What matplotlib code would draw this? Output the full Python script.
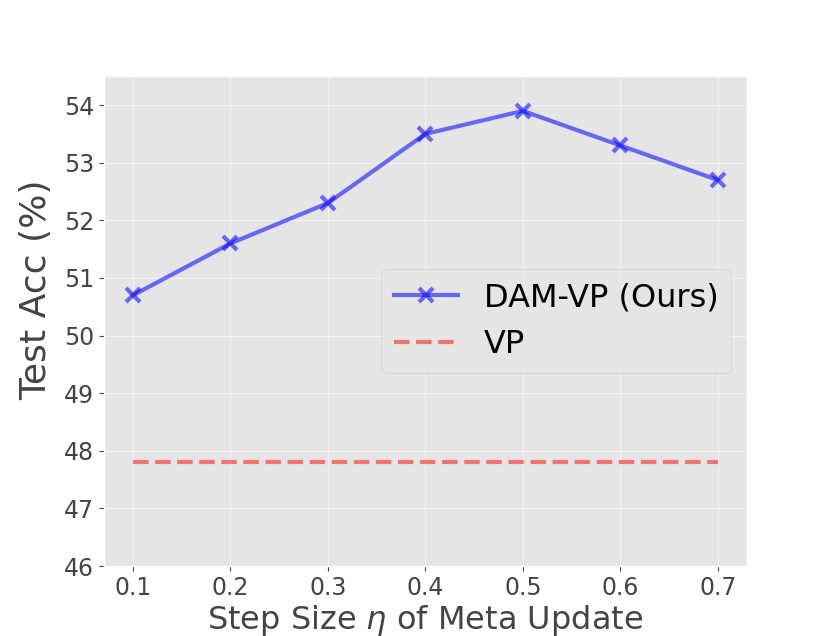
import matplotlib
matplotlib.use('Agg')
import matplotlib.pyplot as plt

step_sizes = [0.1, 0.2, 0.3, 0.4, 0.5, 0.6, 0.7]
dam_vp = [50.7, 51.6, 52.3, 53.5, 53.9, 53.3, 52.7]
vp = [47.8, 47.8, 47.8, 47.8, 47.8, 47.8, 47.8]


def main():
    plt.style.use('ggplot')
    fig, ax = plt.subplots(figsize=(8.3, 6.36), dpi=100)
    ax.plot(step_sizes, dam_vp, color='blue', alpha=0.55, linewidth=3,
            marker='x', markersize=10, markeredgewidth=3, label='DAM-VP (Ours)')
    ax.plot(step_sizes, vp, color='red', alpha=0.5, linewidth=3,
            linestyle='--', label='VP')
    ax.set_ylim(46, 54.5)
    ax.set_yticks(range(46, 55))
    ax.set_xticks(step_sizes)
    ax.grid(color='white', alpha=0.5)
    ax.tick_params(labelsize=17, colors='#444444')
    ax.set_xlabel(r'Step Size $\eta$ of Meta Update', fontsize=23, color='#444444',
                  labelpad=2)
    ax.set_ylabel('Test Acc (%)', fontsize=26, color='#444444')
    ax.yaxis.set_label_coords(-0.079, 0.565)
    ax.legend(fontsize=23, loc='center right')
    fig.savefig('out.png')


if __name__ == '__main__':
    main()
